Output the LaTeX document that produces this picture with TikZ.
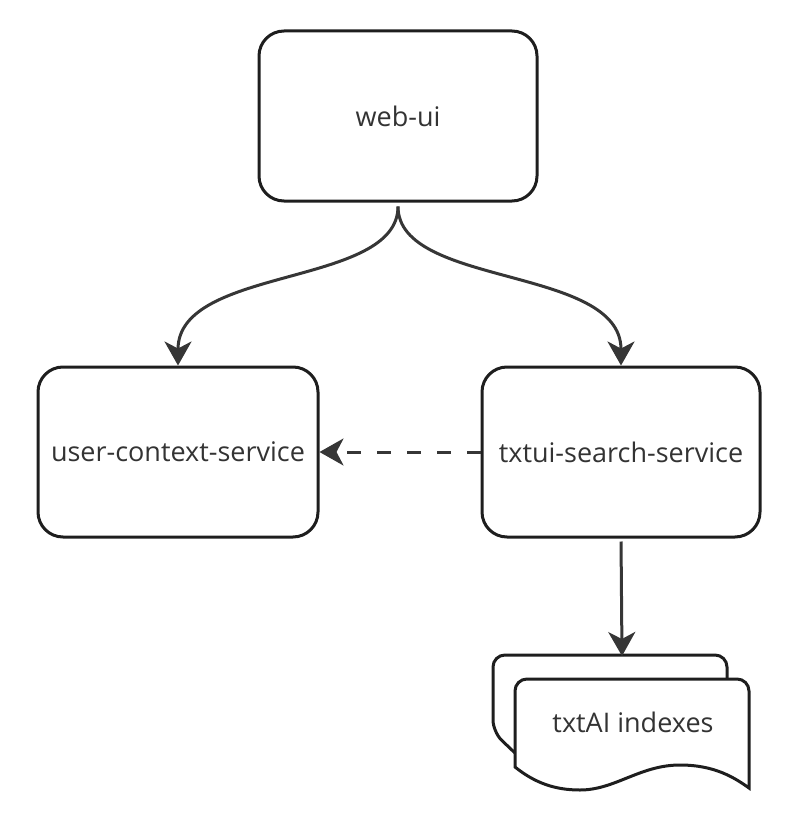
\documentclass[tikz,border=0pt]{standalone}
\usepackage{fontspec}
\setmainfont{Open Sans}
\usetikzlibrary{arrows.meta,
  calc,
  positioning
}
\definecolor{edgegray}{HTML}{1E1E1E}
\definecolor{linkgray}{HTML}{363636}
\definecolor{textgray}{HTML}{333333}
\tikzstyle{service} = [draw=edgegray, line width=3pt, rounded corners=25pt,
  minimum width=278pt, minimum height=170pt, text=textgray,
  font=\fontsize{27}{31}\selectfont]
\tikzstyle{flow} = [draw=linkgray, line width=3pt,
  -{Stealth[length=24pt,width=27pt,inset=7pt]}]

\begin{document}
\begin{tikzpicture}[x=1pt,y=-1pt]
  \useasboundingbox (0,0) rectangle (799,821);

  % services
  \node[service] (webui) at (398,116) {web-ui};
  \node[service, minimum width=280pt] (user) at (178,452) {user-context-service};
  \node[service] (search) at (621,452) {txtui-search-service};

  % txtAI index stack
  \draw[edgegray, line width=3pt, fill=white, rounded corners=12pt]
  (727,682) -- (727,655) -- (493,655) -- (493,732) [sharp corners] -- (515,753);
  \draw[edgegray, line width=3pt, fill=white]
  (515,767) [rounded corners=12pt] -- (515,679) -- (749,679) [sharp corners] -- (749,788)
  .. controls (735,778) and (715,765) .. (680,765)
  .. controls (640,765) and (615,790) .. (580,790)
  .. controls (555,790) and (535,783) .. (515,767) -- cycle;
  \node[text=textgray, font=\fontsize{27}{31}\selectfont] (idx) at (633,722) {txtAI indexes};
  \coordinate (idxtop) at (622,656);

  % web-ui calls
  \draw[flow, shorten <=4pt] (webui.south) .. controls +(0,85) and +(0,-100) .. (user.north);
  \draw[flow, shorten <=4pt] (webui.south) .. controls +(0,85) and +(0,-100) .. (search.north);

  % context lookup
  \draw[flow, dash pattern=on 14pt off 16pt] (search.west) -- (user.east);

  % index access
  \draw[flow, shorten <=3pt] (search.south) -- (idxtop);
\end{tikzpicture}
\end{document}
